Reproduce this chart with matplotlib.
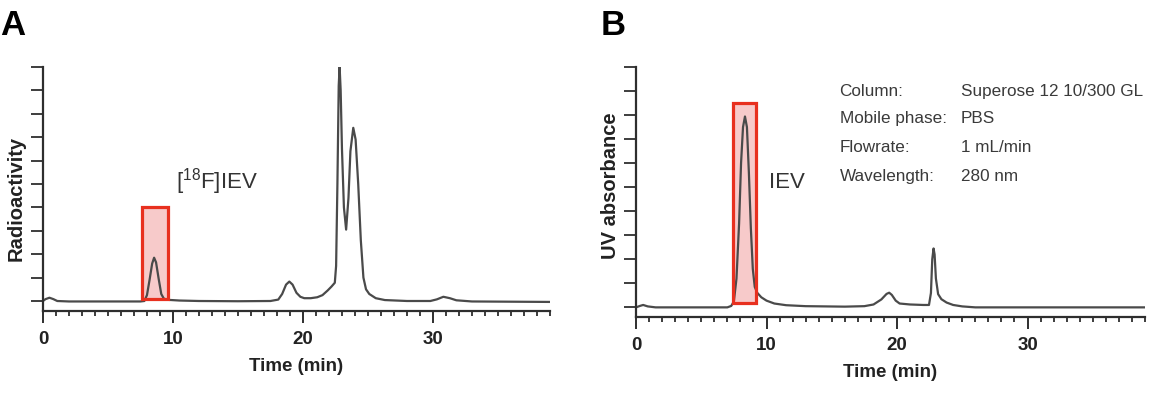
import matplotlib
matplotlib.use("Agg")
import matplotlib.pyplot as plt
from matplotlib.ticker import MultipleLocator, NullFormatter
from matplotlib.patches import Rectangle

plt.rcParams['font.family'] = 'Liberation Sans'
plt.rcParams['mathtext.fontset'] = 'custom'
plt.rcParams['mathtext.rm'] = 'Liberation Sans'

# --- data ---
# panel A: radio trace (time in min, signal in tick units)
rad_t = [0.0, 0.2, 0.5, 0.8, 1.1, 2.0, 5.0, 7.5, 7.8, 8.0, 8.2, 8.4, 8.55, 8.7,
         8.9, 9.1, 9.3, 9.6, 10.5, 12.0, 15.0, 17.5, 18.1, 18.4, 18.7, 18.95,
         19.2, 19.5, 19.8, 20.1, 20.6, 21.1, 21.5, 21.9, 22.2, 22.45, 22.55,
         22.65, 22.75, 22.82, 22.9, 23.0, 23.15, 23.32, 23.5, 23.65, 23.87,
         24.05, 24.25, 24.45, 24.65, 24.85, 25.1, 25.6, 26.3, 28.0, 29.8, 30.3,
         30.8, 31.3, 31.8, 33.0, 39.0]
rad_y = [0.0, 0.08, 0.14, 0.08, 0.0, -0.02, -0.02, -0.02, 0.0, 0.25, 0.9, 1.6,
         1.85, 1.65, 0.95, 0.3, 0.1, 0.05, 0.02, 0.0, -0.01, 0.0, 0.06, 0.3,
         0.7, 0.83, 0.7, 0.35, 0.18, 0.12, 0.12, 0.16, 0.25, 0.45, 0.62, 0.78,
         1.5, 5.0, 9.2, 10.0, 9.0, 6.5, 4.0, 3.05, 4.4, 6.4, 7.4, 6.9, 5.0,
         2.6, 1.0, 0.5, 0.3, 0.12, 0.04, 0.0, 0.0, 0.07, 0.18, 0.12, 0.03,
         -0.02, -0.04]
# panel B: UV trace
uv_t = [0.0, 0.3, 0.55, 0.9, 1.5, 7.0, 7.3, 7.5, 7.7, 7.9, 8.05, 8.2, 8.35, 8.5,
        8.65, 8.8, 8.95, 9.1, 9.3, 9.6, 10.0, 10.6, 11.5, 13.0, 16.0, 17.5,
        18.2, 18.8, 19.2, 19.4, 19.6, 19.9, 20.2, 21.0, 22.0, 22.45, 22.6,
        22.7, 22.8, 22.88, 22.98, 23.15, 23.4, 23.8, 24.3, 25.0, 26.0, 39.0]
uv_y = [0.0, 0.06, 0.1, 0.04, 0.0, 0.0, 0.06, 0.25, 1.2, 3.5, 6.0, 7.5, 7.94,
        7.5, 5.6, 3.3, 1.6, 0.85, 0.6, 0.42, 0.28, 0.16, 0.09, 0.05, 0.03,
        0.05, 0.12, 0.33, 0.56, 0.61, 0.52, 0.28, 0.16, 0.12, 0.1, 0.1, 0.6,
        2.0, 2.45, 2.2, 1.2, 0.55, 0.34, 0.2, 0.1, 0.04, 0.0, 0.0]

# collected-fraction boxes (t0, t1, y0, y1)
box_a = (7.64, 9.59, 0.09, 4.03)
box_b = (7.46, 9.2, 0.19, 8.5)

info_keys = ["Column:", "Mobile phase:", "Flowrate:", "Wavelength:"]
info_vals = ["Superose 12 10/300 GL", "PBS", "1 mL/min", "280 nm"]
info_rows = [9.0, 7.84, 6.66, 5.46]

line_col = '#4a4a4a'
axis_col = '#2e2e2e'
red = '#e8301f'
pink = '#f7caca'

fig = plt.figure(figsize=(11.61, 3.94), dpi=100)
ax_a = fig.add_axes([0.0370, 0.2114, 0.4367, 0.6186])
ax_b = fig.add_axes([0.5478, 0.1967, 0.4384, 0.6333])


def style(ax, ybot):
    ax.set_xlim(0, 39)
    ax.set_ylim(ybot, 10)
    for s in ['top', 'right']:
        ax.spines[s].set_visible(False)
    for s in ['left', 'bottom']:
        ax.spines[s].set_linewidth(1.6)
        ax.spines[s].set_color(axis_col)
    ax.spines['left'].set_bounds(ybot, 10)
    ax.xaxis.set_major_locator(MultipleLocator(10))
    ax.xaxis.set_minor_locator(MultipleLocator(1))
    ax.yaxis.set_major_locator(MultipleLocator(1))
    ax.yaxis.set_major_formatter(NullFormatter())
    ax.tick_params(axis='x', which='major', direction='out', length=8.6,
                   width=1.4, color=axis_col, labelsize=13.5, pad=6)
    ax.tick_params(axis='x', which='minor', direction='out', length=3.6,
                   width=1.3, color=axis_col)
    ax.tick_params(axis='y', which='major', direction='out', length=8.6,
                   width=1.3, color=axis_col)
    for lab in ax.get_xticklabels():
        lab.set_fontweight('bold')
        lab.set_color('#222222')
    ax.set_xlabel("Time (min)", fontsize=13.5, fontweight='bold',
                  color='#222222', labelpad=7)
    ax.patch.set_alpha(0)


style(ax_a, -0.415)
style(ax_b, -0.38)

for ax, box in [(ax_a, box_a), (ax_b, box_b)]:
    t0, t1, y0, y1 = box
    ax.add_patch(Rectangle((t0, y0), t1 - t0, y1 - y0, facecolor=pink,
                           edgecolor='none', zorder=1))

ax_a.plot(rad_t, rad_y, color=line_col, lw=1.6, zorder=2)
ax_b.plot(uv_t, uv_y, color=line_col, lw=1.6, zorder=2)

for ax, box in [(ax_a, box_a), (ax_b, box_b)]:
    t0, t1, y0, y1 = box
    ax.add_patch(Rectangle((t0, y0), t1 - t0, y1 - y0, facecolor='none',
                           edgecolor=red, lw=2.3, zorder=3))

ax_a.text(10.2, 5.1, r'[$^{\mathregular{18}}$F]IEV', fontsize=16,
          color='#333333', va='center', ha='left')
ax_b.text(10.2, 5.2, 'IEV', fontsize=16, color='#333333', va='center',
          ha='left')

for k, v, y in zip(info_keys, info_vals, info_rows):
    ax_b.text(15.6, y, k, fontsize=12.3, color='#3a3a3a', va='center')
    ax_b.text(24.9, y, v, fontsize=12.3, color='#3a3a3a', va='center')

fig.text(16 / 1161, 1 - 198 / 394, 'Radioactivity', rotation=90, fontsize=14.5,
         fontweight='bold', color='#222222', ha='center', va='center')
fig.text(610 / 1161, 1 - 186 / 394, 'UV absorbance', rotation=90, fontsize=14.5,
         fontweight='bold', color='#222222', ha='center', va='center')

fig.text(0 / 1161, 1 - 35 / 394, 'A', fontsize=25, fontweight='bold',
         ha='left', va='baseline')
fig.text(601 / 1161, 1 - 35 / 394, 'B', fontsize=25, fontweight='bold',
         ha='left', va='baseline')

fig.savefig('out.png', dpi=100)
